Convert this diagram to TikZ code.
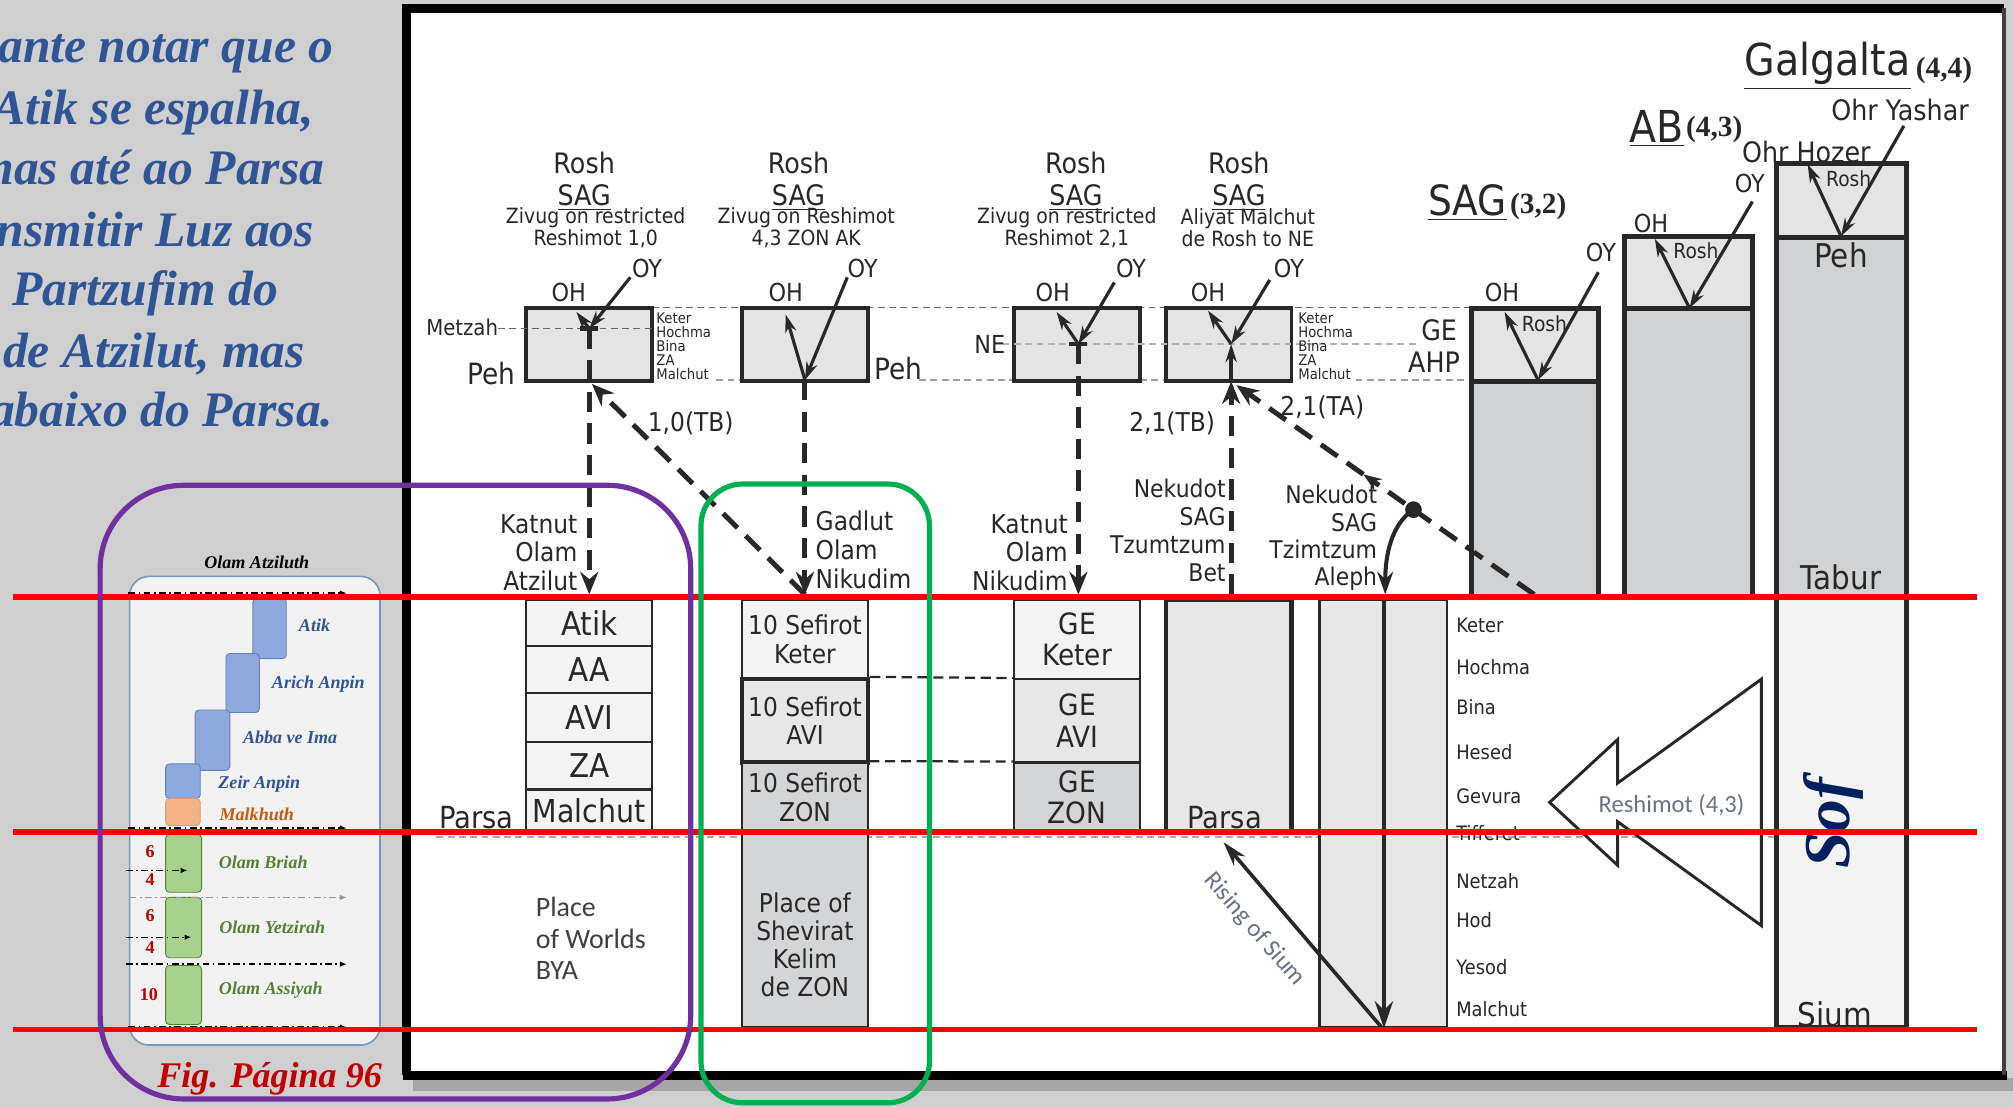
\documentclass[tikz,border=0pt]{standalone}
\usepackage{fontspec}
\setmainfont{DejaVu Sans}[FakeStretch=0.9]
\newfontfamily\tnr{Liberation Serif}
\newfontfamily\cali{Carlito}
\usepackage{tikz}
\usetikzlibrary{arrows.meta, positioning}

\definecolor{bggray}{RGB}{207,207,207}
\definecolor{ink}{RGB}{40,40,40}
\definecolor{boxlight}{RGB}{228,228,228}
\definecolor{bodygray}{RGB}{209,210,212}
\definecolor{celllight}{RGB}{243,243,243}
\definecolor{cellmid}{RGB}{231,231,231}
\definecolor{celldark}{RGB}{212,213,215}
\definecolor{txtblue}{RGB}{47,85,151}
\definecolor{sofblue}{RGB}{0,32,96}
\definecolor{figred}{RGB}{192,0,0}
\definecolor{purp}{RGB}{112,48,160}
\definecolor{grn}{RGB}{0,176,80}
\definecolor{reshgray}{RGB}{105,115,135}
\definecolor{insetfill}{RGB}{242,242,242}
\definecolor{insetline}{RGB}{120,150,190}
\definecolor{blk}{RGB}{142,169,219}
\definecolor{blkline}{RGB}{100,130,190}
\definecolor{orng}{RGB}{244,177,131}
\definecolor{orngtxt}{RGB}{197,90,17}
\definecolor{grnblk}{RGB}{169,209,142}
\definecolor{grntxt}{RGB}{84,130,53}

\tikzstyle{roshbox} = [draw=ink, line width=1.7pt, fill=boxlight, minimum width=19.6mm, minimum height=11.4mm, inner sep=0pt]
\tikzstyle{cell} = [draw=ink, line width=1pt, minimum width=19.6mm, inner sep=0pt, align=center, text=ink]
\tikzstyle{tower} = [draw=ink, line width=2.2pt, inner sep=0pt]
\tikzstyle{hd} = [inner sep=0pt, text=ink, font=\fontsize{12.5}{14}\selectfont]
\tikzstyle{sm} = [inner sep=0pt, text=ink, align=center, font=\fontsize{9.3}{9.7}\selectfont]
\tikzstyle{tiny} = [inner sep=0pt, text=ink, align=left, font=\fontsize{6.5}{6.2}\selectfont]
\tikzstyle{mid} = [inner sep=0pt, text=ink, font=\fontsize{11.5}{12.8}\selectfont]
\tikzstyle{big} = [inner sep=0pt, text=ink, font=\fontsize{19.5}{22}\selectfont]
\tikzstyle{num} = [inner sep=0pt, text=ink, font=\tnr\bfseries\fontsize{13}{15}\selectfont]
\tikzstyle{rlist} = [inner sep=0pt, text=ink, anchor=west, font=\fontsize{8.8}{10}\selectfont]
\tikzstyle{inl} = [inner sep=0pt, font=\tnr\bfseries\itshape\fontsize{8}{9}\selectfont]
\tikzstyle{ray} = [draw=ink, line width=1.4pt, -{Stealth[length=8pt,width=5pt]}]
\tikzstyle{dray} = [draw=ink, line width=2.2pt, dash pattern=on 9pt off 5pt, -{Stealth[length=10pt,width=8pt]}]
\tikzstyle{guide} = [ink!70, line width=0.6pt, dash pattern=on 3pt off 2pt]
\tikzstyle{dashdot} = [black, line width=0.6pt, dash pattern=on 3pt off 1.5pt on 0.8pt off 1.5pt, -{Latex[length=3pt,width=2.5pt]}]
\tikzstyle{redline} = [red, line width=2.4pt]
\tikzstyle{note} = [inner sep=0pt, text=txtblue, anchor=base east, font=\tnr\bfseries\itshape\fontsize{22}{26}\selectfont]

\begin{document}
\begin{tikzpicture}[x=0.2mm, y=-0.2mm]
	\useasboundingbox (0,0) rectangle (1568,862); % Bildgroesse
	\fill[bggray] (0,0) rectangle (1568,862); % Hintergrund

	% Text links
	\node[note] (n1) at (260,49) {ante notar que o};
	\node[note] (n2) at (245,97) {Atik se espalha,};
	\node[note] (n3) at (253,144) {mas até ao Parsa};
	\node[note] (n4) at (245,192) {nsmitir Luz aos};
	\node[note] (n5) at (217,238) {Partzufim do};
	\node[note] (n6) at (238,286) {de Atzilut, mas};
	\node[note] (n7) at (260,332) {abaixo do Parsa.};

	% Tafel
	\fill[black!35] (322,840) rectangle (1568,850); % Schatten
	\fill[white] (316,6) rectangle (1561,837); % Flaeche
	\draw[line width=4pt] (316.5,837.5) -- (316.5,6.5) -- (1561,6.5); % Rand
	\draw[line width=4pt] (314,837.5) -- (1563,837.5); % Rand unten
	\draw[black!75, line width=1.5pt] (1561,6.5) -- (1561,837.5); % Rand rechts

	% Hilfslinien
	\draw[guide] (508,239.5) -- (1146,239.5); % Keter-Linie
	\draw[guide, ink!45] (558,296) -- (578,296); % Malchut-Linie
	\draw[guide, ink!45] (716,296) -- (790,296);
	\draw[guide, ink!45] (888,296) -- (908,296);
	\draw[guide, ink!45] (1056,296) -- (1146,296);
	\draw[guide, ink!40] (340,652) -- (1384,652); % Parsa-Linie

	% Rosh-Kaesten
	\node[roshbox] (rosh1) at (459,268.5) {};
	\node[roshbox] (rosh2) at (627,268.5) {};
	\node[roshbox] (rosh3) at (839,268.5) {};
	\node[roshbox] (rosh4) at (957,268.5) {};
	\draw[guide] (388,256) -- (508,256); % Metzah
	\draw[guide, ink!35] (781,268) -- (1104,268); % NE

	% Koepfe der Spalten
	\node[hd] (rh1) at (455,127) {Rosh};
	\node[hd, anchor=base] (sg1) at (455,160) {\underline{SAG}};
	\node[sm] (zv1) at (464,177.5) {Zivug on restricted\\Reshimot 1,0};
	\node[hd] (rh2) at (622,127) {Rosh};
	\node[hd, anchor=base] (sg2) at (622,160) {\underline{SAG}};
	\node[sm] (zv2) at (628,177.5) {Zivug on Reshimot\\4,3 ZON AK};
	\node[hd] (rh3) at (838,127) {Rosh};
	\node[hd, anchor=base] (sg3) at (838,160) {\underline{SAG}};
	\node[sm] (zv3) at (831,177.5) {Zivug on restricted\\Reshimot 2,1};
	\node[hd] (rh4) at (965,127) {Rosh};
	\node[hd, anchor=base] (sg4) at (965,160) {\underline{SAG}};
	\node[sm] (zv4) at (972,177.5) {Aliyat Malchut\\de Rosh to NE};

	% OH / OY
	\node[hd, font=\fontsize{11}{13}\selectfont] (oh1) at (443,228) {OH};
	\node[hd, font=\fontsize{11}{13}\selectfont] (oy1) at (504,209) {OY};
	\node[hd, font=\fontsize{11}{13}\selectfont] (oh2) at (612,228) {OH};
	\node[hd, font=\fontsize{11}{13}\selectfont] (oy2) at (672,209) {OY};
	\node[hd, font=\fontsize{11}{13}\selectfont] (oh3) at (820,228) {OH};
	\node[hd, font=\fontsize{11}{13}\selectfont] (oy3) at (881,209) {OY};
	\node[hd, font=\fontsize{11}{13}\selectfont] (oh4) at (941,228) {OH};
	\node[hd, font=\fontsize{11}{13}\selectfont] (oy4) at (1004,209) {OY};

	\node[hd, font=\fontsize{9.7}{11}\selectfont] (metz) at (360,255) {Metzah};
	\node[hd, font=\fontsize{13}{15}\selectfont] (peh1) at (383,291) {Peh};
	\node[hd, font=\fontsize{13}{15}\selectfont] (peh2) at (700,287) {Peh};
	\node[hd, font=\fontsize{11}{13}\selectfont] (ne) at (771,268) {NE};
	\node[tiny, anchor=west] (sf1) at (511,270) {Keter\\Hochma\\Bina\\ZA\\Malchut};
	\node[tiny, anchor=west] (sf4) at (1011,270) {Keter\\Hochma\\Bina\\ZA\\Malchut};
	\node[hd] (ge) at (1121,257) {GE};
	\node[hd] (ahp) at (1117,282) {AHP};

	% Punkte fuer die Strahlen
	\coordinate (j1) at (459,256);
	\coordinate (y1) at (491,216);
	\coordinate (h1) at (449,243);
	\coordinate (a1) at (459,463);
	\coordinate (j2) at (627,296);
	\coordinate (y2) at (660,216);
	\coordinate (h2) at (612,245);
	\coordinate (a2) at (627,463);
	\coordinate (tb1) at (461,299);
	\coordinate (j3) at (840,268);
	\coordinate (y3) at (868,220);
	\coordinate (h3) at (823,243);
	\coordinate (a3) at (840,463);
	\coordinate (j4) at (959,268);
	\coordinate (y4) at (989,218);
	\coordinate (h4) at (941,242);
	\coordinate (b4) at (959,297);
	\coordinate (t4) at (959,463);
	\coordinate (tb4) at (963,300);
	\coordinate (ta0) at (1195,463);
	\coordinate (ta1) at (1148,430);
	\coordinate (mid4) at (1062,369.5);
	\coordinate (dot4) at (1101,397);
	\coordinate (al0) at (1079,463);
	\coordinate (al1) at (1078,467);
	\coordinate (al2) at (1078,801);
	\coordinate (rs1) at (1076,800);
	\coordinate (rs2) at (953,656);

	% Strahlen OY / OH
	\draw[ray] (y1) -- (j1); % OY 1
	\draw[ray] (j1) -- (h1); % OH 1
	\draw[ray] (y2) -- (j2); % OY 2
	\draw[ray] (j2) -- (h2); % OH 2
	\draw[ray] (y3) -- (j3); % OY 3
	\draw[ray] (j3) -- (h3); % OH 3
	\draw[ray] (y4) -- (j4); % OY 4
	\draw[ray] (j4) -- (h4); % OH 4
	\draw[ray, line width=2pt] (b4) -- (j4); % Aliyat Malchut
	\draw[line width=2pt, ink] (452,256) -- (466,256); % Querstrich 1
	\draw[line width=2pt, ink] (833,268) -- (847,268); % Querstrich 3

	% gestrichelte Pfeile
	\draw[dray] (j1) -- (a1); % Katnut Atzilut
	\draw[dray] (j2) -- (a2); % Gadlut Nikudim
	\draw[dray] (j3) -- (a3); % Katnut Nikudim
	\draw[dray] (a2) -- (tb1); % 1,0(TB)
	\draw[dray] (t4) -- (b4); % 2,1(TB)
	\draw[dray, -{Stealth[length=8pt,width=6pt]}] (ta0) -- (mid4); % 2,1(TA)
	\draw[dray] (mid4) -- (tb4);
	\fill[ink] (dot4) circle (1.3mm); % Punkt
	\draw[ray, line width=1.8pt, -{Stealth[length=10pt,width=7pt]}] (dot4) .. controls (1084,408) and (1079,432) .. (al0); % Tzimtzum Aleph

	\node[hd, font=\fontsize{11.5}{13}\selectfont] (tb10) at (538,330) {1,0(TB)};
	\node[hd, font=\fontsize{11.5}{13}\selectfont] (tb21) at (913,330) {2,1(TB)};
	\node[hd, font=\fontsize{11.5}{13}\selectfont] (ta21) at (1030,317) {2,1(TA)};

	\node[mid, anchor=east, align=right] (kat1) at (450,430.5) {Katnut\\Olam\\Atzilut};
	\node[mid, anchor=west, align=left] (gad) at (635,428.5) {Gadlut\\Olam\\Nikudim};
	\node[mid, anchor=east, align=right] (kat2) at (832,430.5) {Katnut\\Olam\\Nikudim};
	\node[mid, anchor=east, align=right, font=\fontsize{10.8}{12.5}\selectfont] (bet) at (955,413) {Nekudot\\SAG\\Tzumtzum\\Bet};
	\node[mid, anchor=east, align=right, font=\fontsize{10.8}{12.1}\selectfont] (aleph) at (1073,419) {Nekudot\\SAG\\Tzimtzum\\Aleph};

	% Spalte Atzilut
	\node[cell, fill=celllight, minimum height=7.2mm, font=\fontsize{14.5}{16}\selectfont] (atik) at (459,485) {Atik};
	\node[cell, fill=celllight, minimum height=7.4mm, font=\fontsize{14.5}{16}\selectfont] (aa) at (459,521.5) {AA};
	\node[cell, fill=celllight, minimum height=7.6mm, font=\fontsize{14.5}{16}\selectfont] (avi1) at (459,559) {AVI};
	\node[cell, fill=celllight, minimum height=7.4mm, font=\fontsize{14.5}{16}\selectfont] (za) at (459,596.5) {ZA};
	\node[cell, fill=celllight, minimum height=6.6mm, font=\fontsize{14}{16}\selectfont] (malchut1) at (459,631.5) {Malchut};
	\node[hd, font=\fontsize{13.5}{15}\selectfont] (parsa1) at (371,637) {Parsa};
	\node[inner sep=0pt, text=black!75, align=left, anchor=west, font=\cali\fontsize{12.4}{14}\selectfont] (bya) at (417,731) {Place\\of Worlds\\BYA};

	% Spalte Nikudim Gadlut
	\node[cell, line width=1.2pt, fill=celllight, minimum height=12.4mm, font=\fontsize{11.5}{12.5}\selectfont] (sk) at (627,498) {10 Sefirot\\Keter};
	\node[cell, line width=2pt, fill=cellmid, minimum height=13mm, font=\fontsize{11.5}{12.5}\selectfont] (sa) at (627,561.5) {10 Sefirot\\AVI};
	\node[cell, line width=1.2pt, fill=celldark, minimum height=10.8mm, font=\fontsize{11.5}{12.5}\selectfont] (sz) at (627,621) {10 Sefirot\\ZON};
	\node[cell, line width=1.2pt, fill=celldark, minimum height=30.4mm] (shev) at (627,724) {};
	\node[inner sep=0pt, text=ink, align=center, font=\fontsize{11.5}{12.5}\selectfont] (shevtxt) at (627,736) {Place of\\Shevirat\\Kelim\\de ZON};

	% Spalte Nikudim Katnut
	\node[cell, fill=celllight, minimum height=12.4mm, font=\fontsize{13}{14}\selectfont] (gk) at (839,498) {GE\\Keter};
	\node[cell, fill=cellmid, minimum height=13mm, font=\fontsize{13}{14}\selectfont] (ga) at (839,561.5) {GE\\AVI};
	\node[cell, fill=celldark, minimum height=10.8mm, font=\fontsize{13}{14}\selectfont] (gz) at (839,621) {GE\\ZON};
	\draw[ink, line width=1pt, dash pattern=on 4.5pt off 2.5pt] (sa.north east) -- (ga.north west); % Verbindung AVI
	\draw[ink, line width=1pt, dash pattern=on 4.5pt off 2.5pt] (sz.north east) -- (gz.north west); % Verbindung ZON

	% Spalten Bet und Aleph
	\node[tower, line width=1.8pt, fill=cellmid, minimum width=19.6mm, minimum height=36.2mm] (pbox) at (957,557.5) {};
	\node[hd, font=\fontsize{13.5}{15}\selectfont] (parsa2) at (954,637) {Parsa};
	\node[tower, line width=1.2pt, fill=cellmid, minimum width=19.8mm, minimum height=66.6mm] (abox) at (1077.5,633.5) {};
	\draw[ray, line width=2pt, -{Stealth[length=12pt,width=8pt]}] (al1) -- (al2); % Aleph-Linie
	\draw[ray, line width=1.6pt, -{Stealth[length=11pt,width=6.5pt]}] (rs1) -- (rs2); % Rising of Sium
	\node[inner sep=0pt, rotate=-49, text=reshgray, font=\cali\fontsize{11}{13}\selectfont] (rising) at (977,724) {Rising of Sium};

	% Partzufim SAG, AB, Galgalta
	\node[tower, fill=bodygray, minimum width=19.8mm, minimum height=33.6mm] (sagb) at (1195.5,381) {};
	\node[tower, fill=boxlight, minimum width=19.8mm, minimum height=11.4mm] (sagr) at (1195.5,268.5) {};
	\node[tower, fill=bodygray, minimum width=20mm, minimum height=45mm] (abb) at (1315,352.5) {};
	\node[tower, fill=boxlight, minimum width=20mm, minimum height=11.2mm] (abr) at (1315,212) {};
	\node[tower, fill=celllight, minimum width=20.2mm, minimum height=67mm] (gsof) at (1434.5,632.5) {};
	\node[tower, fill=bodygray, minimum width=20.2mm, minimum height=56mm] (gb) at (1434.5,325) {};
	\node[tower, fill=boxlight, minimum width=20.2mm, minimum height=11.6mm] (gr) at (1434.5,156) {};
	\draw[dray, -] (ta0) -- (ta1); % Linie ueber SAG

	\coordinate (j5) at (1198,296);
	\coordinate (y5) at (1245,212);
	\coordinate (h5) at (1172,243);
	\coordinate (j6) at (1316,240);
	\coordinate (y6) at (1365,157);
	\coordinate (h6) at (1289,186);
	\coordinate (j7) at (1434,184);
	\coordinate (y7) at (1483,98);
	\coordinate (h7) at (1408,128);
	\draw[ray] (y5) -- (j5); % OY SAG
	\draw[ray] (j5) -- (h5); % OH SAG
	\draw[ray] (y6) -- (j6); % OY AB
	\draw[ray] (j6) -- (h6); % OH AB
	\draw[ray] (y7) -- (j7); % OY Galgalta
	\draw[ray] (j7) -- (h7); % OH Galgalta

	\node[hd, font=\fontsize{11}{13}\selectfont] (oh5) at (1170,228) {OH};
	\node[hd, font=\fontsize{11}{13}\selectfont] (oy5) at (1247,197) {OY};
	\node[hd, font=\fontsize{11}{13}\selectfont] (oh6) at (1286,174) {OH};
	\node[hd, font=\fontsize{11}{13}\selectfont] (oy6) at (1363,143) {OY};
	\node[hd, font=\fontsize{12.5}{14}\selectfont] (ohz) at (1407,118) {Ohr Hozer};
	\node[hd, font=\fontsize{12.5}{14}\selectfont] (ohy) at (1480,86) {Ohr Yashar};
	\node[hd, font=\fontsize{9.2}{11}\selectfont] (rs5) at (1203,252) {Rosh};
	\node[hd, font=\fontsize{9.2}{11}\selectfont] (rs6) at (1321,195) {Rosh};
	\node[hd, font=\fontsize{9.2}{11}\selectfont] (rs7) at (1440,139) {Rosh};
	\node[hd, font=\fontsize{14.5}{16}\selectfont] (gpeh) at (1434,199) {Peh};
	\node[hd, font=\fontsize{14.5}{16}\selectfont] (tabur) at (1434,450) {Tabur};
	\node[hd, font=\fontsize{14.5}{16}\selectfont] (sium) at (1429,790) {Sium};
	\node[inner sep=0pt, rotate=90, text=sofblue, font=\tnr\bfseries\itshape\fontsize{29}{32}\selectfont] (sof) at (1428,641) {Sof};

	\node[big, anchor=base] (galg) at (1423.5,59) {\underline{Galgalta}};
	\node[num, anchor=base west] (g44) at (1492,60) {(4,4)};
	\node[big, anchor=base] (ab) at (1290.5,111) {\underline{AB}};
	\node[num, anchor=base west] (ab43) at (1313,106) {(4,3)};
	\node[big, anchor=base, font=\fontsize{18.5}{21}\selectfont] (sag) at (1143,168) {\underline{SAG}};
	\node[num, anchor=base west] (sag32) at (1176,166) {(3,2)};

	% Sefirot rechts
	\node[rlist] (s1) at (1134,487) {Keter};
	\node[rlist] (s2) at (1134,520) {Hochma};
	\node[rlist] (s3) at (1134,551) {Bina};
	\node[rlist] (s4) at (1134,586) {Hesed};
	\node[rlist] (s5) at (1134,620) {Gevura};
	\node[rlist] (s6) at (1134,649) {Tifferet};
	\node[rlist] (s7) at (1134,686) {Netzah};
	\node[rlist] (s8) at (1134,717) {Hod};
	\node[rlist] (s9) at (1134,753) {Yesod};
	\node[rlist] (s10) at (1134,786) {Malchut};

	% Reshimot-Pfeil
	\draw[ink, line width=1.3pt, fill=white] (1207,625) -- (1260,576) -- (1260,610) -- (1372,529) -- (1372,721) -- (1260,640) -- (1260,674) -- cycle;
	\node[inner sep=0pt, text=reshgray, font=\cali\fontsize{10.9}{13}\selectfont] (resh) at (1302,627) {Reshimot (4,3)};

	% Bild Olam Atziluth
	\node[inl, text=black] (olam) at (200,438) {Olam Atziluth};
	\draw[insetline, fill=insetfill, rounded corners=3mm, line width=0.7pt] (101,449) rectangle (296,814);
	\draw[blkline, fill=blk, rounded corners=0.6mm] (197,466) rectangle (223,513); % Atik
	\draw[blkline, fill=blk, rounded corners=0.6mm] (176,509) rectangle (202,555); % Arich Anpin
	\draw[blkline, fill=blk, rounded corners=0.6mm] (152,553) rectangle (179,600); % Abba ve Ima
	\draw[blkline, fill=blk, rounded corners=0.6mm] (129,595) rectangle (156,622); % Zeir Anpin
	\draw[orngtxt!60, fill=orng, rounded corners=0.6mm] (129,622) rectangle (156,643); % Malkhuth
	\draw[grntxt, fill=grnblk, rounded corners=0.6mm] (129,650) rectangle (157,695); % Briah
	\draw[grntxt, fill=grnblk, rounded corners=0.6mm] (129,699) rectangle (157,746); % Yetzirah
	\draw[grntxt, fill=grnblk, rounded corners=0.6mm] (129,752) rectangle (157,798); % Assiyah
	\node[inl, text=txtblue] (l1) at (245,487) {Atik};
	\node[inl, text=txtblue] (l2) at (248,533) {Arich Anpin};
	\node[inl, text=txtblue] (l3) at (226,574) {Abba ve Ima};
	\node[inl, text=txtblue] (l4) at (202,611) {Zeir Anpin};
	\node[inl, text=orngtxt] (l5) at (200,634) {Malkhuth};
	\node[inl, text=grntxt] (l6) at (205,672) {Olam Briah};
	\node[inl, text=grntxt] (l7) at (212,722) {Olam Yetzirah};
	\node[inl, text=grntxt] (l8) at (211,771) {Olam Assiyah};
	\node[inl, text=figred, font=\tnr\bfseries\fontsize{8}{9}\selectfont] (c1) at (117,663) {6};
	\node[inl, text=figred, font=\tnr\bfseries\fontsize{8}{9}\selectfont] (c2) at (117,685) {4};
	\node[inl, text=figred, font=\tnr\bfseries\fontsize{8}{9}\selectfont] (c3) at (117,713) {6};
	\node[inl, text=figred, font=\tnr\bfseries\fontsize{8}{9}\selectfont] (c4) at (117,738) {4};
	\node[inl, text=figred, font=\tnr\bfseries\fontsize{8}{9}\selectfont] (c5) at (116,775) {10};
	\draw[dashdot] (100,462) -- (270,462);
	\draw[dashdot] (100,645) -- (270,645);
	\draw[dashdot] (98,678) -- (146,678);
	\draw[dashdot, black!40] (101,699) -- (270,699);
	\draw[dashdot] (98,730) -- (149,730);
	\draw[dashdot] (98,751) -- (270,751);
	\draw[dashdot] (100,800) -- (270,800);

	% rote Linien
	\draw[redline] (10,465) -- (1540,465);
	\draw[redline] (10,648) -- (1540,648);
	\draw[redline] (10,802) -- (1540,802);

	% Rahmen purpur und gruen
	\draw[purp, line width=2.3pt, rounded corners=13mm] (78,378) rectangle (538,856);
	\draw[grn, line width=2.3pt, rounded corners=6.5mm] (546,377) rectangle (724,859);
	\node[inner sep=0pt, text=figred, font=\tnr\bfseries\itshape\fontsize{16}{18}\selectfont] (fig) at (210,840) {Fig. Página 96};
\end{tikzpicture}
\end{document}
